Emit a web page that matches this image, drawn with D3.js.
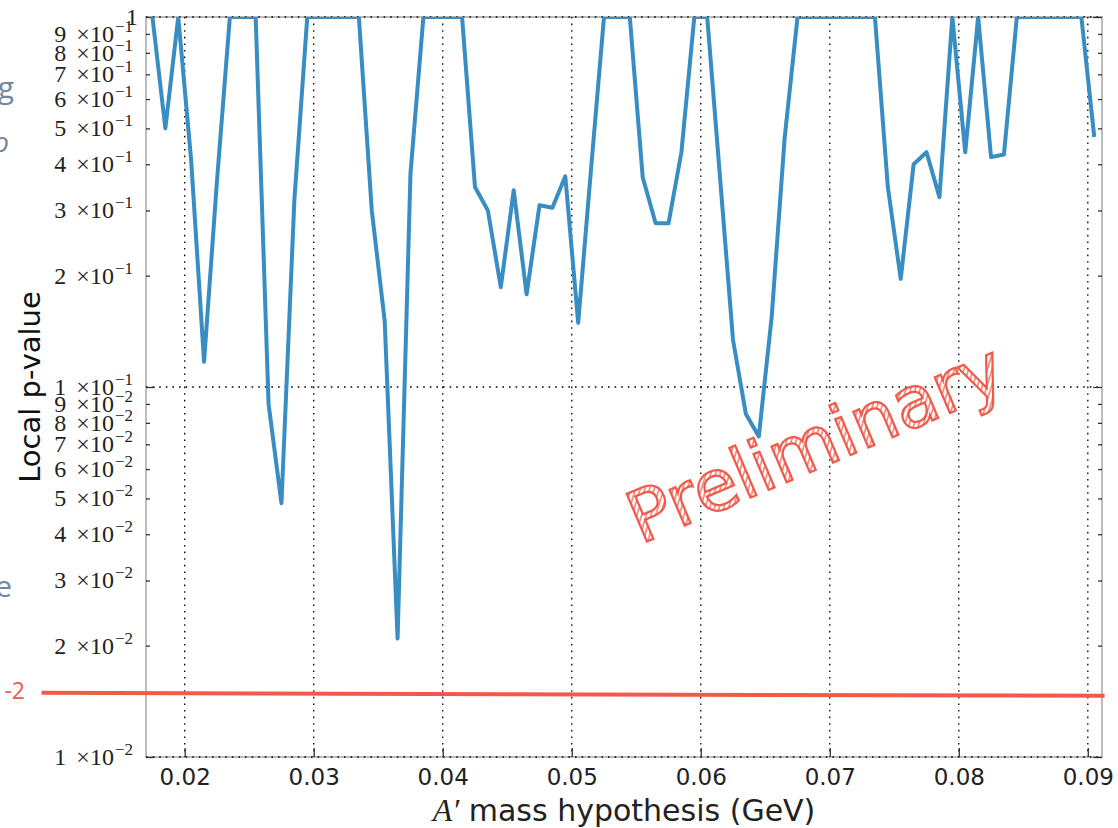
<!DOCTYPE html>
<html><head><meta charset="utf-8">
<script src="https://cdn.jsdelivr.net/npm/d3@7"></script>
<style>body{margin:0;background:#fff} svg{display:block}</style>
</head><body>
<svg id="c" width="1118" height="828"></svg>
<script>
// ---------- data ----------
const masses = [0.0175,0.0185,0.0195,0.0205,0.0215,0.0225,0.0235,0.0245,0.0255,0.0265,
  0.0275,0.0285,0.0295,0.0305,0.0315,0.0325,0.0335,0.0345,0.0355,0.0365,
  0.0375,0.0385,0.0395,0.0405,0.0415,0.0425,0.0435,0.0445,0.0455,0.0465,
  0.0475,0.0485,0.0495,0.0505,0.0515,0.0525,0.0535,0.0545,0.0555,0.0565,
  0.0575,0.0585,0.0595,0.0605,0.0615,0.0625,0.0635,0.0645,0.0655,0.0665,
  0.0675,0.0685,0.0695,0.0705,0.0715,0.0725,0.0735,0.0745,0.0755,0.0765,
  0.0775,0.0785,0.0795,0.0805,0.0815,0.0825,0.0835,0.0845,0.0855,0.0865,
  0.0875,0.0885,0.0895,0.0905];
const pValues = [1,0.50,1,0.41,0.117,0.36,1,1,1,0.090,
  0.0485,0.32,1,1,1,1,1,0.30,0.151,0.0209,
  0.378,1,1,1,1,0.347,0.30,0.186,0.34,0.178,
  0.31,0.305,0.371,0.149,0.39,1,1,1,0.369,0.277,
  0.277,0.431,1,1,0.366,0.134,0.0845,0.0735,0.155,0.47,
  1,1,1,1,1,1,1,0.347,0.196,0.40,
  0.431,0.326,1,0.431,1,0.418,0.425,1,1,1,
  1,1,1,0.474];
const xTickValues = [0.02,0.03,0.04,0.05,0.06,0.07,0.08,0.09];
const xTickLabels = ["0.02","0.03","0.04","0.05","0.06","0.07","0.08","0.09"];
const yTickValues = [0.01,0.02,0.03,0.04,0.05,0.06,0.07,0.08,0.09,
  0.1,0.2,0.3,0.4,0.5,0.6,0.7,0.8,0.9,1];
const yMajorValues = [0.01,0.1,1];
const thresholdMass = [0.0089,0.0913];
const thresholdP = [0.01491,0.01463];

// ---------- layout ----------
const M = {l:146, r:1102, t:17, b:757};
const RED = "#f2594a", BLUE = "#388dc2";
const x = d3.scaleLinear().domain([0.017,0.0911]).range([M.l,M.r]);
const y = d3.scaleLog().domain([0.01,1]).range([M.b,M.t]);
const svg = d3.select("#c");
const defs = svg.append("defs");
defs.append("clipPath").attr("id","plotclip").append("rect")
  .attr("x",M.l).attr("y",M.t).attr("width",M.r-M.l).attr("height",M.b-M.t);
const pat = defs.append("pattern").attr("id","hatch").attr("patternUnits","userSpaceOnUse")
  .attr("width",4.5).attr("height",4.5).attr("patternTransform","rotate(40)");
pat.append("rect").attr("width",4.5).attr("height",4.5).attr("fill","#fff");
pat.append("line").attr("x1",1).attr("y1",0).attr("x2",1).attr("y2",4.5)
  .attr("stroke",RED).attr("stroke-width",1.2);

// slide fragments at the left edge
const frag = svg.append("g").attr("font-family","'Open Sans','Liberation Sans',sans-serif");
frag.append("text").attr("x",14).attr("y",98).attr("text-anchor","end")
  .attr("font-size",30).attr("fill","#7386a0").text("g");
frag.append("text").attr("x",9).attr("y",152).attr("text-anchor","end")
  .attr("font-size",28).attr("font-style","italic").attr("fill","#7386a0").text("ρ");
frag.append("text").attr("x",12).attr("y",597).attr("text-anchor","end")
  .attr("font-size",30).attr("fill","#7386a0").text("e");
frag.append("text").attr("x",25).attr("y",699).attr("text-anchor","end")
  .attr("font-size",23).attr("fill",RED).text("-2");

// frame
svg.append("rect").attr("x",M.l).attr("y",M.t).attr("width",M.r-M.l).attr("height",M.b-M.t)
  .attr("fill","none").attr("stroke","#bcbcbc").attr("stroke-width",2);

// grid
const grid = svg.append("g").attr("stroke","#000").attr("stroke-width",1.3)
  .attr("stroke-dasharray","1.6,5");
grid.selectAll(".gx").data(xTickValues).join("line")
  .attr("x1",d=>x(d)).attr("x2",d=>x(d)).attr("y1",M.t).attr("y2",M.b);
grid.selectAll(".gy").data(yMajorValues).join("line")
  .attr("y1",d=>y(d)).attr("y2",d=>y(d)).attr("x1",M.l).attr("x2",M.r);

// x axis
const gx = svg.append("g").attr("transform",`translate(0,${M.b})`)
  .call(d3.axisBottom(x).tickValues(xTickValues).tickFormat((d,i)=>xTickLabels[i])
    .tickSize(-9).tickPadding(12));
gx.select(".domain").remove();
gx.selectAll("line").attr("stroke","#333").attr("stroke-width",1.3);
gx.selectAll("text").attr("font-family","'DejaVu Sans',sans-serif").attr("font-size",23)
  .attr("fill","#222");

// y axis ticks (left and right)
function styleY(g){
  g.select(".domain").remove();
  g.selectAll("line").attr("stroke","#333").attr("stroke-width",1.3)
    .attr("x2",function(d){ const s = +d3.select(this).attr("x2"); return yMajorValues.includes(d)? s*2.2 : s; });
}
const gyL = svg.append("g").attr("transform",`translate(${M.l},0)`)
  .call(d3.axisLeft(y).tickValues(yTickValues).tickFormat("").tickSize(-4));
styleY(gyL);
const gyR = svg.append("g").attr("transform",`translate(${M.r},0)`)
  .call(d3.axisRight(y).tickValues(yTickValues).tickFormat("").tickSize(-4));
styleY(gyR);

// y tick labels (mathtext style)
const yl = svg.append("g").attr("font-family","'Liberation Serif','DejaVu Serif',serif")
  .attr("fill","#222");
yTickValues.forEach(v=>{
  const e = Math.floor(Math.log10(v)+1e-9);
  const mant = Math.round(v/Math.pow(10,e));
  if (e===0){
    yl.append("text").attr("x",138).attr("y",y(v)).attr("dy","0.33em")
      .attr("text-anchor","end").attr("font-size",24).text(String(mant));
    return;
  }
  const t = yl.append("text").attr("x",133).attr("y",y(v)).attr("dy","0.33em")
    .attr("text-anchor","end").attr("font-size",24);
  t.append("tspan").text(String(mant));
  t.append("tspan").attr("dx",10).text("\u00d710");
  t.append("tspan").attr("dx",1).attr("dy",-10).attr("font-size",17).text("\u2212"+(-e));
});

// data line
const line = d3.line().x(d=>x(d[0])).y(d=>y(d[1]));
svg.append("path").datum(masses.map((mm,i)=>[mm,pValues[i]]))
  .attr("clip-path","url(#plotclip)")
  .attr("d",line).attr("fill","none").attr("stroke",BLUE).attr("stroke-width",4)
  .attr("stroke-linejoin","round");

// threshold line (slide overlay)
svg.append("path").datum(thresholdMass.map((mm,i)=>[mm,thresholdP[i]]))
  .attr("d",line).attr("fill","none").attr("stroke",RED).attr("stroke-width",4);

// axis labels
const xl = svg.append("text").attr("x",(M.l+M.r)/2).attr("y",821).attr("text-anchor","middle")
  .attr("font-family","'DejaVu Sans',sans-serif").attr("font-size",30).attr("fill","#222");
xl.append("tspan").attr("font-family","'Liberation Serif',serif").attr("font-style","italic")
  .attr("font-size",32).text("A\u2032");
xl.append("tspan").text(" mass hypothesis (GeV)");
svg.append("text").attr("transform",`translate(40,${(M.t+M.b)/2}) rotate(-90)`)
  .attr("text-anchor","middle").attr("font-family","'DejaVu Sans',sans-serif")
  .attr("font-size",29).attr("fill","#111").text("Local p-value");

// Preliminary stamp
svg.append("text").attr("transform","translate(825,466) rotate(-23)")
  .attr("text-anchor","middle").attr("font-family","'DejaVu Sans',sans-serif")
  .attr("font-size",71).attr("fill","url(#hatch)").attr("stroke",RED).attr("stroke-width",2.2)
  .text("Preliminary");
</script>
</body></html>
